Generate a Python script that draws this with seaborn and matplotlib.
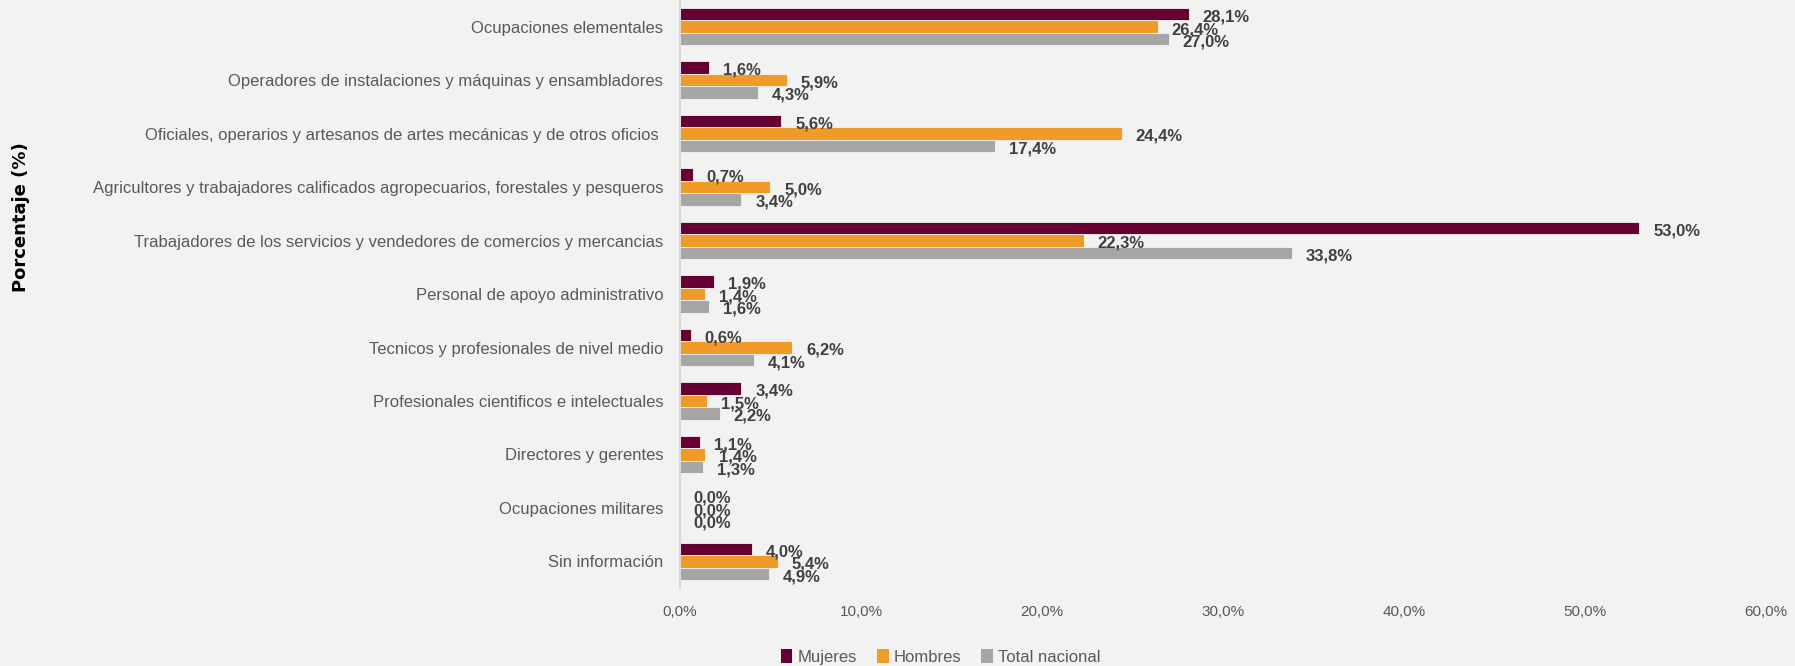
import matplotlib
matplotlib.use("Agg")
import matplotlib.pyplot as plt
import seaborn as sns
import pandas as pd
from matplotlib.patches import Patch

ocupaciones = [
    "Ocupaciones elementales",
    "Operadores de instalaciones y máquinas y ensambladores",
    "Oficiales, operarios y artesanos de artes mecánicas y de otros oficios ",
    "Agricultores y trabajadores calificados agropecuarios, forestales y pesqueros",
    "Trabajadores de los servicios y vendedores de comercios y mercancias",
    "Personal de apoyo administrativo",
    "Tecnicos y profesionales de nivel medio",
    "Profesionales cientificos e intelectuales",
    "Directores y gerentes",
    "Ocupaciones militares",
    "Sin información",
]
mujeres = [28.1, 1.6, 5.6, 0.7, 53.0, 1.9, 0.6, 3.4, 1.1, 0.0, 4.0]
hombres = [26.4, 5.9, 24.4, 5.0, 22.3, 1.4, 6.2, 1.5, 1.4, 0.0, 5.4]
total = [27.0, 4.3, 17.4, 3.4, 33.8, 1.6, 4.1, 2.2, 1.3, 0.0, 4.9]
series = ["Mujeres", "Hombres", "Total nacional"]
colores = ["#660033", "#F09A28", "#A6A6A6"]
xticks = [0, 10, 20, 30, 40, 50, 60]

# tabla larga para seaborn
filas = []
for serie, valores in zip(series, [mujeres, hombres, total]):
    for ocup, v in zip(ocupaciones, valores):
        filas.append({"Ocupacion": ocup, "Porcentaje": v, "Serie": serie})
df = pd.DataFrame(filas)

sns.set_style("white", rc={"axes.facecolor": "#F2F2F2", "figure.facecolor": "#F2F2F2"})
plt.rcParams["font.family"] = ["Liberation Sans", "DejaVu Sans"]

fig = plt.figure(figsize=(17.95, 6.66), dpi=100)
ax = fig.add_axes([0.3788, 0.117, 0.605, 0.883])

sns.barplot(data=df, y="Ocupacion", x="Porcentaje", hue="Serie", order=ocupaciones,
            hue_order=series, palette=colores, saturation=1, orient="h", width=0.7,
            edgecolor="#F2F2F2", linewidth=0.6, legend=False, ax=ax)

# etiquetas de datos
for cont in ax.containers:
    vals = [b.get_width() for b in cont]
    etiquetas = [f"{v:.1f}".replace(".", ",") + "%" for v in vals]
    anns = ax.bar_label(cont, labels=etiquetas, padding=10, fontsize=12,
                        fontweight="bold", color="#404040")
    for a in anns:
        a.xyann = (10, -2)

ax.set_xlim(0, 60)
ax.set_xticks(xticks)
ax.set_xticklabels([f"{t:.1f}".replace(".", ",") + "%" for t in xticks],
                   fontsize=11, color="#595959")
ax.tick_params(axis="x", length=0, pad=12)
ax.tick_params(axis="y", length=0, pad=12, labelsize=12, labelcolor="#595959")
ax.set_xlabel("")
ax.set_ylabel("")
for s in ["top", "right", "bottom"]:
    ax.spines[s].set_visible(False)
ax.spines["left"].set_color("#D9D9D9")
ax.spines["left"].set_linewidth(1.5)
ax.grid(False)

fig.text(0.0115, 0.674, "Porcentaje (%)", rotation=90, ha="center", va="center",
         fontsize=13, fontweight="bold", color="black", family="DejaVu Sans")

handles = [Patch(facecolor=c, edgecolor="none") for c in colores]
fig.legend(handles, series, loc="center", bbox_to_anchor=(0.524, 0.014), ncol=3,
           frameon=False, handlelength=0.7, handleheight=0.9, handletextpad=0.3,
           columnspacing=1.2, prop={"size": 12}, labelcolor="#595959")

fig.savefig("out.png", dpi=100, facecolor=fig.get_facecolor())
